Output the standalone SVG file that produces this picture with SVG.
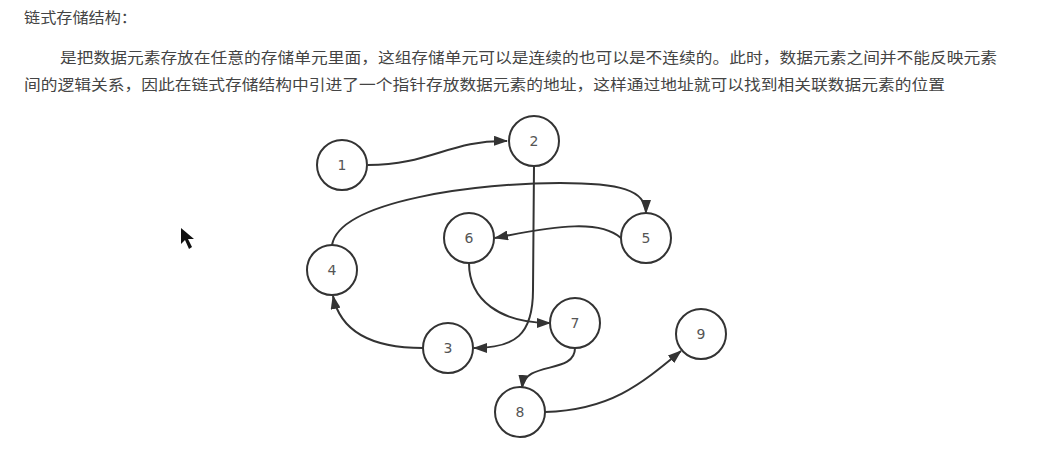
<svg xmlns="http://www.w3.org/2000/svg" width="1046" height="457" viewBox="0 0 1046 457">
<style>
.t{font-family:"Noto Sans CJK SC","Liberation Sans",sans-serif;font-size:15px;fill:#444}
.n circle{fill:#fff;stroke:#333;stroke-width:2}
.n text{font-family:"DejaVu Sans","Liberation Sans",sans-serif;font-size:14px;fill:#555;text-anchor:middle}
.e path{fill:none;stroke:#333;stroke-width:2}
</style>
<defs>
<marker id="ar" viewBox="0 0 14 10" refX="13" refY="5" markerWidth="14" markerHeight="10" markerUnits="userSpaceOnUse" orient="auto">
<path d="M0,0 L14,5 L0,10 Z" fill="#333"/>
</marker>
</defs>
<rect width="1046" height="457" fill="#fff"/>
<text class="t" x="24" y="23" textLength="113" lengthAdjust="spacingAndGlyphs">链式存储结构：</text>
<text class="t" x="60" y="63" textLength="937" lengthAdjust="spacingAndGlyphs">是把数据元素存放在任意的存储单元里面，这组存储单元可以是连续的也可以是不连续的。此时，数据元素之间并不能反映元素</text>
<text class="t" x="24" y="90" textLength="921" lengthAdjust="spacingAndGlyphs">间的逻辑关系，因此在链式存储结构中引进了一个指针存放数据元素的地址，这样通过地址就可以找到相关联数据元素的位置</text>
<g id="cursor"><path d="M181,228 L181,244 L185,240 L189,249 L192,247 L188,239 L194,239 Z" fill="#111"/></g>
<g id="connectors" class="e">
<path d="M368,165 C430,165 450,140 507,141" marker-end="url(#ar)"/>
<path d="M534,166 L533,290 C533,335 515,348 474,348" marker-end="url(#ar)"/>
<path d="M423,348 C370,348 340,330 333,296" marker-end="url(#ar)"/>
<path d="M332,245 C340,200 480,183 560,183 C620,183 646,190 646,213" marker-end="url(#ar)"/>
<path d="M621,238 C600,220 560,225 495,238" marker-end="url(#ar)"/>
<path d="M469,263 C469,300 500,323 550,323" marker-end="url(#ar)"/>
<path d="M575,348 C575,375 525,360 522,388" marker-end="url(#ar)"/>
<path d="M545,412 C610,410 640,385 681,351" marker-end="url(#ar)"/>
</g>
<g id="node1" class="n"><circle cx="342" cy="165" r="25"/><text x="342" y="170">1</text></g>
<g id="node2" class="n"><circle cx="534" cy="141" r="25"/><text x="534" y="146">2</text></g>
<g id="node3" class="n"><circle cx="448" cy="348" r="25"/><text x="448" y="353">3</text></g>
<g id="node4" class="n"><circle cx="332" cy="270" r="25"/><text x="332" y="275">4</text></g>
<g id="node5" class="n"><circle cx="646" cy="238" r="25"/><text x="646" y="243">5</text></g>
<g id="node6" class="n"><circle cx="469" cy="238" r="25"/><text x="469" y="243">6</text></g>
<g id="node7" class="n"><circle cx="575" cy="323" r="25"/><text x="575" y="328">7</text></g>
<g id="node8" class="n"><circle cx="520" cy="412" r="25"/><text x="520" y="417">8</text></g>
<g id="node9" class="n"><circle cx="701" cy="334" r="25"/><text x="701" y="339">9</text></g>
</svg>
